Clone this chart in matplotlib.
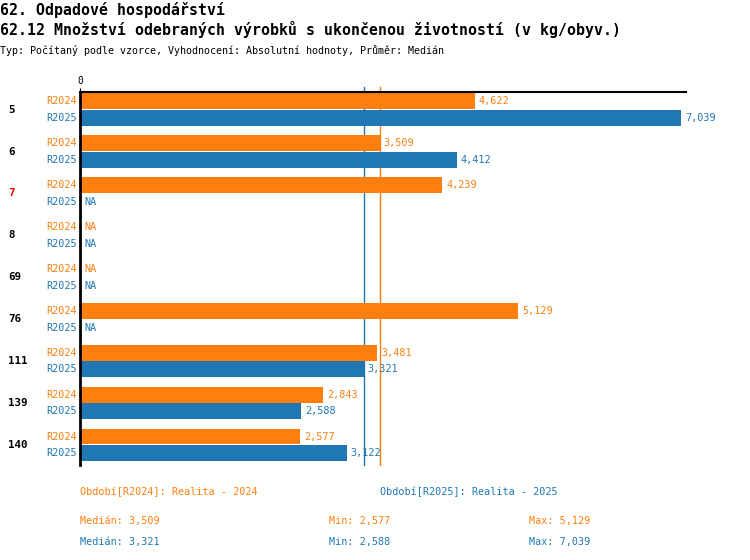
import matplotlib.pyplot as plt
import numpy as np
from matplotlib.transforms import blended_transform_factory

# data
categories = ['5', '6', '7', '8', '69', '76', '111', '139', '140']
highlight = ['7']
r2024 = [4622, 3509, 4239, np.nan, np.nan, 5129, 3481, 2843, 2577]
r2025 = [7039, 4412, np.nan, np.nan, np.nan, np.nan, 3321, 2588, 3122]
series_names = ['R2024', 'R2025']
legend_texts = ['Období[R2024]: Realita - 2024', 'Období[R2025]: Realita - 2025']

ORANGE = '#ff7f0e'
BLUE = '#1f77b4'
FONT = 'DejaVu Sans Mono'
W, H = 750, 560


def fx(px):
    return px / W


def fy(py):
    return 1 - py / H


def main():
    plt.rcParams['font.family'] = [FONT]
    fig = plt.figure(figsize=(7.5, 5.6), dpi=100)

    fig.text(fx(0), fy(10), '62. Odpadové hospodářství', fontsize=10.7,
             fontweight='bold', va='center', ha='left')
    fig.text(fx(0), fy(30), '62.12 Množství odebraných výrobků s ukončenou životností (v kg/obyv.)',
             fontsize=10.7, fontweight='bold', va='center', ha='left')
    fig.text(fx(0), fy(50), 'Typ: Počítaný podle vzorce, Vyhodnocení: Absolutní hodnoty, Průměr: Medián',
             fontsize=7.2, va='center', ha='left')

    left, top, right, bottom = 80, 92, 686, 465
    ax = fig.add_axes([fx(left), fy(bottom), (right - left) / W, (bottom - top) / H])

    scale = 601 / 7039  # px per unit
    xmax = (right - left) / scale
    ax.set_xlim(0, xmax)
    n = len(categories)
    ax.set_ylim(n - 1 + 0.48, -0.42)

    y = np.arange(n)
    off, h = 0.2, 0.38
    vals = [np.array(r2024, float), np.array(r2025, float)]
    colors = [ORANGE, BLUE]
    offsets = [-off, off]

    for v, c, o, name in zip(vals, colors, offsets, series_names):
        ax.barh(y + o, np.nan_to_num(v), height=h, color=c, zorder=2)
        for yi, val in zip(y, v):
            lbl = 'NA' if np.isnan(val) else f'{int(val):,}'
            xv = 0 if np.isnan(val) else val
            ax.annotate(lbl, (xv, yi + o), xytext=(3, 0), textcoords='offset points',
                        va='center', ha='left', color=c, fontsize=7.3, clip_on=False, zorder=4)
            ax.annotate(name, (0, yi + o), xytext=(-2, 0), textcoords='offset points',
                        va='center', ha='right', color=c, fontsize=7.3, clip_on=False)

    # category labels
    tr = blended_transform_factory(fig.transFigure, ax.transData)
    for yi, cat in zip(y, categories):
        ax.text(fx(8), yi, cat, transform=tr, va='center', ha='left', fontsize=7.8,
                fontweight='bold', color='red' if cat in highlight else 'black')

    # median lines (behind the bars)
    medians = [np.nanmedian(v) for v in vals]
    for m, c in zip(medians, colors):
        ax.plot([m, m], [1.013, 0], transform=blended_transform_factory(ax.transData, ax.transAxes),
                color=c, lw=1, clip_on=False, zorder=1)

    ax.spines['right'].set_visible(False)
    ax.spines['bottom'].set_visible(False)
    ax.spines['top'].set_linewidth(1.5)
    ax.spines['left'].set_linewidth(2)
    ax.xaxis.tick_top()
    ax.set_xticks([0])
    ax.set_xticklabels(['0'], fontsize=7)
    ax.tick_params(axis='x', length=3, pad=1)
    ax.set_yticks([])

    # legend / stats
    fig.text(fx(80), fy(492), legend_texts[0], color=ORANGE, fontsize=7.3, va='center')
    fig.text(fx(380), fy(492), legend_texts[1], color=BLUE, fontsize=7.3, va='center')
    for v, c, ypx in zip(vals, colors, [521, 542]):
        fig.text(fx(80), fy(ypx), f'Medián: {int(np.nanmedian(v)):,}', color=c, fontsize=7.3, va='center')
        fig.text(fx(329), fy(ypx), f'Min: {int(np.nanmin(v)):,}', color=c, fontsize=7.3, va='center')
        fig.text(fx(529), fy(ypx), f'Max: {int(np.nanmax(v)):,}', color=c, fontsize=7.3, va='center')

    fig.savefig('out.png', dpi=100)


if __name__ == '__main__':
    main()
